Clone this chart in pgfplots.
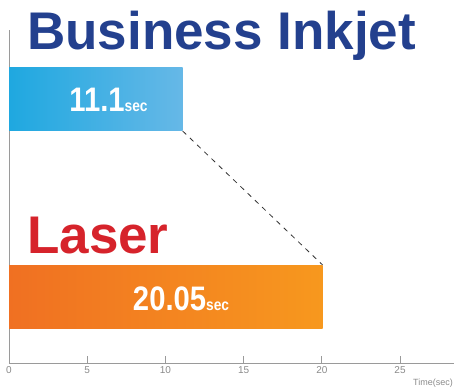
\documentclass[border=0pt]{standalone}
\usepackage{fontspec}
\setmainfont{Liberation Sans}
\usepackage{graphicx}
\usepackage{pgfplots}
\pgfplotsset{compat=1.18}
\definecolor{titleblue}{HTML}{23408E}
\definecolor{titlered}{HTML}{D6232B}
\definecolor{blueL}{HTML}{1FA8E0}
\definecolor{blueR}{HTML}{66B8E7}
\definecolor{orgL}{HTML}{F07022}
\definecolor{orgR}{HTML}{F7981E}
\definecolor{axgray}{HTML}{9A9A9A}
\definecolor{txtgray}{HTML}{8A8A8A}
\begin{document}
\begin{tikzpicture}
\useasboundingbox (0,0) rectangle (454pt,-387pt);
\begin{axis}[
  at={(9pt,-363pt)}, anchor=south west,
  scale only axis, width=445pt, height=333pt,
  xmin=0, xmax=28.45, ymin=0, ymax=333,
  axis x line=bottom, axis y line=left,
  axis line style={draw=axgray, line width=1pt, -},
  xtick={0,5,10,15,20,25}, ytick=\empty,
  tick align=inside, major tick length=7pt,
  tick style={draw=axgray, line width=0.8pt},
  xticklabel style={font=\fontsize{10}{10}\selectfont, text=txtgray, yshift=0pt},
  /pgf/number format/assume math mode=true,
  clip=false,
]
\addplot[xbar, bar width=63, draw=none, left color=blueL, right color=blueR] coordinates {(11.1,263.5)};
\addplot[xbar, bar width=63, draw=none, left color=orgL, right color=orgR] coordinates {(20.05,66.5)};
\addplot[black!80, line width=0.8pt, dash pattern=on 5pt off 5pt] coordinates {(11.1,232) (20.05,98)};
\node[anchor=base, white, inner sep=0] at (axis cs:6.36,251) {\scalebox{0.86}[1]{\fontsize{34}{34}\selectfont\bfseries 11.1\fontsize{16}{16}\selectfont sec}};
\node[anchor=base, white, inner sep=0] at (axis cs:11.0,53) {\scalebox{0.86}[1]{\fontsize{34}{34}\selectfont\bfseries 20.05\fontsize{16}{16}\selectfont sec}};
\end{axis}
\node[anchor=base west, inner sep=0, text=titleblue] at (27pt,-50pt) {\fontsize{53}{53}\selectfont\bfseries Business Inkjet};
\node[anchor=base west, inner sep=0, text=titlered] at (27pt,-253pt) {\fontsize{53}{53}\selectfont\bfseries Laser};
\node[anchor=east, inner sep=0, text=txtgray] at (453pt,-383pt) {\fontsize{9}{9}\selectfont Time(sec)};
\end{tikzpicture}
\end{document}
